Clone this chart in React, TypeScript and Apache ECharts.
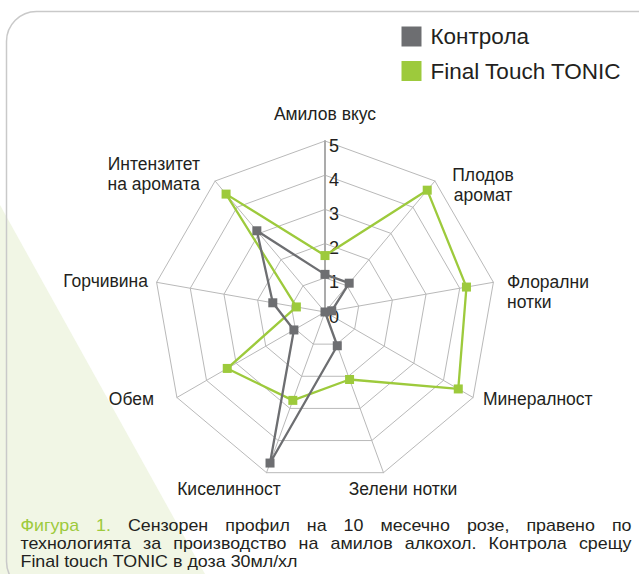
import React, { useEffect, useRef } from "react";
import * as echarts from "echarts";

// Indicators listed counter-clockwise from the top (ECharts radar order)
const INDICATORS = [
  "Амилов вкус",
  "Интензитет\nна аромата",
  "Горчивина",
  "Обем",
  "Киселинност",
  "Зелени нотки",
  "Минералност",
  "Флорални\nнотки",
  "Плодов\nаромат",
];
const CONTROL_VALUES = [1.1, 3.1, 1.55, 1.05, 4.7, 1.05, 0, 0.2, 1.1];
const TONIC_VALUES = [1.65, 4.5, 0.85, 3.3, 2.75, 2.1, 4.5, 4.2, 4.65];
const SERIES_NAMES = ["Контрола", "Final Touch TONIC"];
const MAX_VALUE = 5;
const CAPTION_LINES = [
  "Фигура 1. Сензорен профил на 10 месечно розе, правено по",
  "технологията за производство на амилов алкохол. Контрола срещу",
  "Final touch TONIC в доза 30мл/хл",
];
const CAPTION_GREEN_WORDS = 2;

// label placement (layout only): align + target anchor of each name
const NAME_LAYOUT: { align: string; ax: number; ay: number }[] = [
  { align: "center", ax: 325, ay: 118 },
  { align: "right", ax: 200, ay: 174 },
  { align: "right", ax: 148, ay: 281 },
  { align: "right", ax: 154, ay: 399 },
  { align: "center", ax: 229, ay: 489 },
  { align: "center", ax: 403, ay: 489 },
  { align: "left", ax: 483, ay: 398.5 },
  { align: "left", ax: 507, ay: 292 },
  { align: "center", ax: 483, ay: 185 },
];
const NAME_LINE_HEIGHT = 20;

const GRAY = "#6d6e71";
const GREEN = "#9dca3c";
const TEXT = "#231f20";
const FONT = '"Liberation Sans", Arial, Helvetica, sans-serif';
const CX = 325;
const CY = 312;
const R = 171;

function buildCaption(): any[] {
  const fontSize = 17;
  const ctx = document.createElement("canvas").getContext("2d")!;
  ctx.font = `${fontSize}px "Liberation Sans", Arial, sans-serif`;
  const m = (s: string) => ctx.measureText(s).width;
  const left = 20.5;
  const right = 631.5;
  const scale = 277 / m(CAPTION_LINES[2]);
  const ys = [525, 543.3, 561.5];
  const els: any[] = [];
  CAPTION_LINES.forEach((line, li) => {
    const words = line.split(" ");
    const widths = words.map((w) => m(w) * scale);
    const total = widths.reduce((a, b) => a + b, 0);
    const justify = li < CAPTION_LINES.length - 1;
    const gap = justify ? (right - left - total) / (words.length - 1) : m(" ") * scale;
    let x = left;
    words.forEach((w, wi) => {
      els.push({
        type: "text",
        x,
        y: ys[li],
        scaleX: scale,
        z: 10,
        style: {
          text: w,
          font: `${fontSize}px ${FONT}`,
          fill: li === 0 && wi < CAPTION_GREEN_WORDS ? GREEN : TEXT,
          textAlign: "left",
          textVerticalAlign: "middle",
          align: "left",
          verticalAlign: "middle",
        },
      });
      x += widths[wi] + gap;
    });
  });
  return els;
}

function nameStyle(i: number, n: number, lines: number) {
  const ang = (i * 2 * Math.PI) / n; // counter-clockwise from top
  const vx = CX - R * Math.sin(ang);
  const vy = CY - R * Math.cos(ang);
  const { align, ax, ay } = NAME_LAYOUT[i];
  const dx = ax - vx;
  const dy = ay - vy;
  const h = lines * NAME_LINE_HEIGHT;
  let pl = 0, pr = 0;
  if (align === "center") {
    if (dx > 0) pl = 2 * dx; else pr = -2 * dx;
  } else if (align === "left") {
    pl = Math.max(0, dx);
  } else {
    pr = Math.max(0, -dx);
  }
  // top-aligned block, shifted by top padding so its centre lands at ay
  const pt = dy - h / 2;
  return { align, verticalAlign: "top", padding: [pt, pr, 0, pl] };
}

export default function App() {
  const ref = useRef<HTMLDivElement>(null);
  useEffect(() => {
    document.body.style.margin = "0";
    const chart = echarts.init(ref.current!, null, { renderer: "svg" });
    const indicator = INDICATORS.map((name, i) => {
      const ind: any = { name, max: MAX_VALUE, min: 0, nameGap: 0 };
      ind.nameTextStyle = nameStyle(i, INDICATORS.length, name.split("\n").length);
      if (i === 0) {
        ind.axisLabel = {
          show: true,
          fontSize: 18,
          color: TEXT,
          fontFamily: FONT,
          margin: -4,
          align: "left",
          verticalAlign: "top",
          lineHeight: 9,
        };
        ind.axisLine = { lineStyle: { color: "#ababab", width: 2 } };
      }
      return ind;
    });
    chart.setOption({
      animation: false,
      backgroundColor: "#ffffff",
      graphic: [
        {
          type: "polygon",
          z: -10,
          shape: { points: [[0, 205], [205, 574], [0, 574]] },
          style: { fill: "#f1f6e5" },
        },
        {
          type: "rect",
          z: -9,
          shape: { x: 6.5, y: 11.5, width: 720, height: 580, r: 30 },
          style: { fill: "none", stroke: "#c9c9c9", lineWidth: 1.5 },
        },
        ...buildCaption(),
      ],
      legend: {
        data: SERIES_NAMES,
        orient: "vertical",
        left: 401.5,
        top: 25,
        padding: 0,
        itemWidth: 20,
        itemHeight: 20,
        itemGap: 11.5,
        icon: "rect",
        textStyle: {
          fontSize: 22.5,
          lineHeight: 20,
          color: TEXT,
          fontFamily: FONT,
          padding: [0, 0, 0, 4],
        },
      },
      radar: {
        center: [CX, CY],
        radius: R,
        startAngle: 90,
        splitNumber: 5,
        shape: "polygon",
        nameGap: 0,
        axisName: { color: TEXT, fontSize: 17.5, fontFamily: FONT, lineHeight: NAME_LINE_HEIGHT },
        axisLine: { lineStyle: { color: "#b9b9b9", width: 1 } },
        splitLine: { lineStyle: { color: "#b9b9b9", width: 1 } },
        splitArea: { show: false },
        axisTick: { show: false },
        axisLabel: { show: false },
        indicator,
      },
      series: [
        {
          type: "radar",
          name: SERIES_NAMES[1],
          symbol: "rect",
          symbolSize: 9,
          color: GREEN,
          lineStyle: { color: GREEN, width: 2.3 },
          itemStyle: { color: GREEN },
          data: [{ name: SERIES_NAMES[1], value: TONIC_VALUES }],
        },
        {
          type: "radar",
          name: SERIES_NAMES[0],
          symbol: "rect",
          symbolSize: 9,
          color: GRAY,
          lineStyle: { color: GRAY, width: 2.3 },
          itemStyle: { color: GRAY },
          data: [{ name: SERIES_NAMES[0], value: CONTROL_VALUES }],
        },
      ],
    });
    return () => chart.dispose();
  }, []);
  return (
    <div
      ref={ref}
      style={{ position: "absolute", left: 0, top: 0, width: 639, height: 574 }}
    />
  );
}
